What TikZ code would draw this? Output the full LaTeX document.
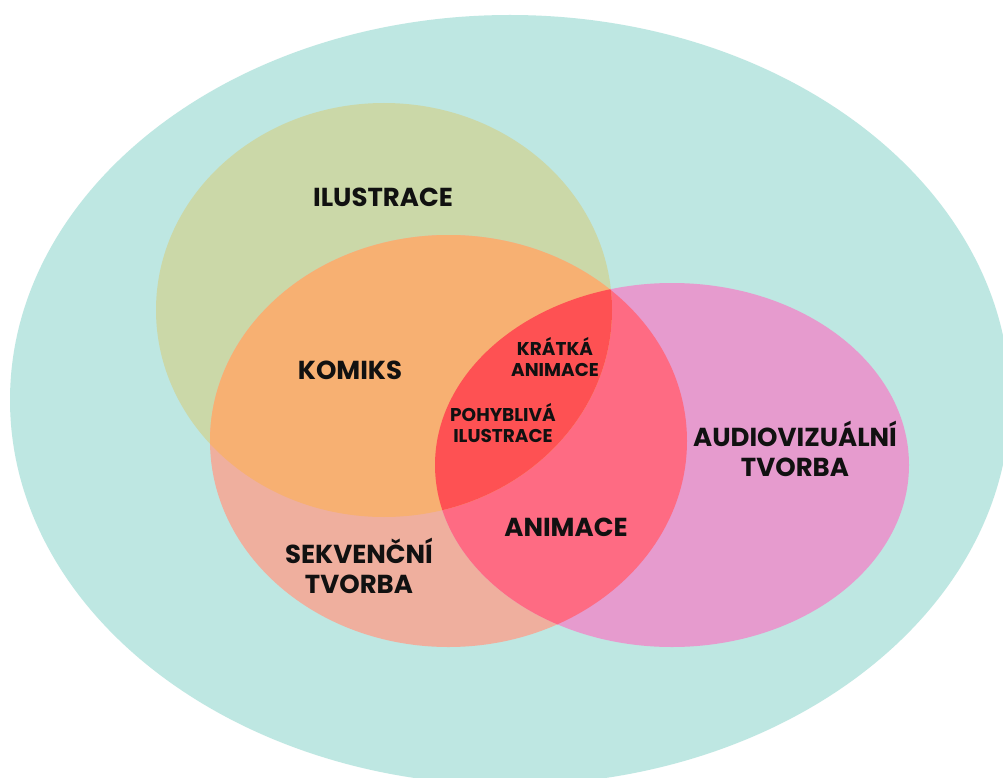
\documentclass[tikz,border=0pt]{standalone}
\usepackage{fontspec}
\setmainfont{Poppins}
\definecolor{cTeal}{HTML}{BEE7E2}
\definecolor{cGreen}{HTML}{CBD8A8}
\definecolor{cOrange}{HTML}{F7B072}
\definecolor{cSalmon}{HTML}{EFAF9E}
\definecolor{cPink}{HTML}{E69BCE}
\definecolor{cAnim}{HTML}{FE6B83}
\definecolor{cRed}{HTML}{FE5153}
\definecolor{cInk}{HTML}{111111}
\newcommand\pathOuter{(510,400) ellipse [x radius=500pt, y radius=385pt]}
\newcommand\pathIlu{(384,310) ellipse [x radius=228pt, y radius=207pt]}
\newcommand\pathSek{(448.5,441) ellipse [x radius=238.5pt, y radius=206pt]}
\newcommand\pathAud{(672,465) ellipse [x radius=237pt, y radius=182pt]}
\tikzset{
  biglbl/.style={font=\bfseries\fontsize{26}{29.5}\selectfont, text=cInk, align=center, inner sep=0pt},
  smalllbl/.style={font=\bfseries\fontsize{18.5}{20.5}\selectfont, text=cInk, align=center, inner sep=0pt}
}
\begin{document}
\begin{tikzpicture}[x=1pt,y=-1pt]
\useasboundingbox (0,0) rectangle (1003,778);
\fill[white] (0,0) rectangle (1003,778);
\clip (0,0) rectangle (1003,778);
\fill[cTeal] \pathOuter;
\fill[cGreen] \pathIlu;
\fill[cSalmon] \pathSek;
\fill[cPink] \pathAud;
\begin{scope}
  \clip \pathSek;
  \fill[cAnim] \pathAud;
\end{scope}
\begin{scope}
  \clip \pathIlu;
  \fill[cOrange] \pathSek;
\end{scope}
\begin{scope}
  \clip \pathIlu;
  \clip \pathSek;
  \fill[cRed] \pathAud;
\end{scope}
\node[biglbl] (ilustrace) at (383,197) {ILUSTRACE};
\node[biglbl] (komiks) at (350,370.5) {KOMIKS};
\node[biglbl] (sekvencni) at (359,566) {SEKVENČNÍ\\TVORBA};
\node[biglbl] (animace) at (566,527.5) {ANIMACE};
\node[biglbl] (audio) at (795,449) {AUDIOVIZUÁLNÍ\\TVORBA};
\node[smalllbl] (kratka) at (555,357) {KRÁTKÁ\\ANIMACE};
\node[smalllbl] (pohybliva) at (503,423) {POHYBLIVÁ\\ILUSTRACE};
\end{tikzpicture}
\end{document}
